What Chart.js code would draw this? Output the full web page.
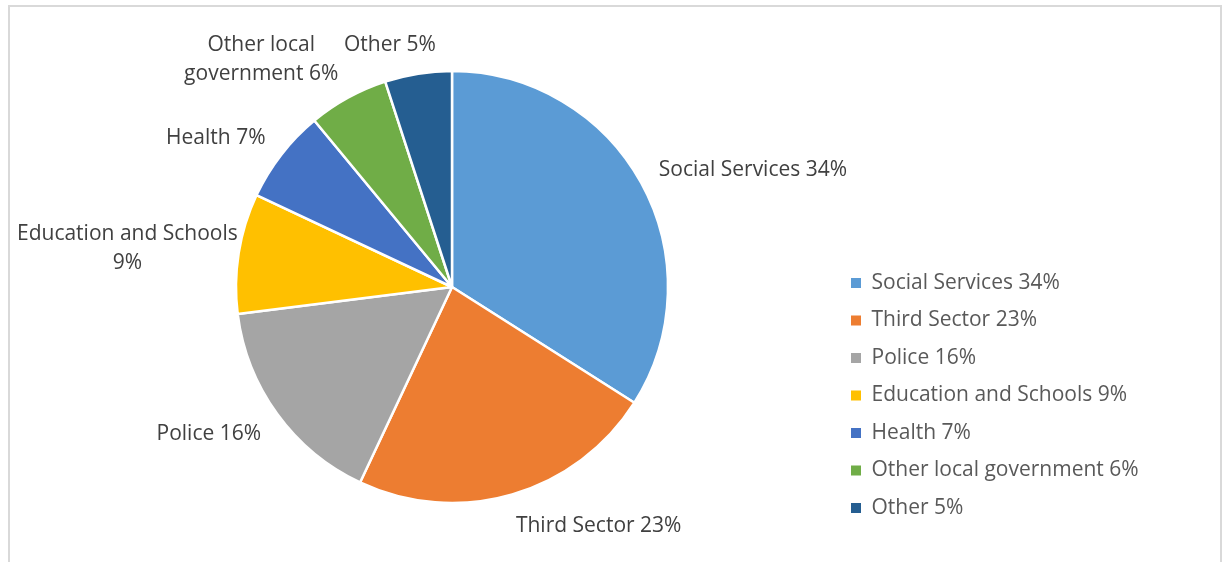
<!DOCTYPE html>
<html>
<head>
<meta charset="utf-8">
<script src="https://cdn.jsdelivr.net/npm/chart.js@4.4.1/dist/chart.umd.min.js"></script>
<style>
  html, body { margin: 0; padding: 0; background: #fff; overflow: hidden; }
  #wrap { position: relative; width: 1222px; height: 562px; }
  #frame { position: absolute; left: 8px; top: 5px; width: 1210px; height: 600px; border: 2px solid #d9d9d9; }
  #chart { position: absolute; left: 0; top: 0; }
</style>
</head>
<body>
<div id="wrap">
  <div id="frame"></div>
  <canvas id="chart" width="1222" height="562"></canvas>
</div>
<script>
// categories and their share of responses (%)
const categories = ['Social Services', 'Third Sector', 'Police', 'Education and Schools', 'Health', 'Other local government', 'Other'];
const shares = [34, 23, 16, 9, 7, 6, 5];
const sliceColors = ['#5b9bd5', '#ed7d31', '#a5a5a5', '#ffc000', '#4472c4', '#70ad47', '#255e91'];
// number of words kept on the first line of a wrapped data label (0 = one line)
const labelWrap = [0, 0, 0, 3, 0, 2, 0];

const FONT = '"Open Sans", "Noto Sans", sans-serif';
const fontSize = 21;
const rowGap = 37.5 - fontSize;

const labelText = (i) => `${categories[i]} ${shares[i]}%`;

function labelLines(i) {
  const words = labelText(i).split(' ');
  const n = labelWrap[i];
  if (!n) return [words.join(' ')];
  return [words.slice(0, n).join(' '), words.slice(n).join(' ')];
}

// measure the widest legend entry so the legend box starts where it should
const mctx = document.createElement('canvas').getContext('2d');
mctx.font = `${fontSize}px ${FONT}`;
const widest = Math.max(...categories.map((c, i) => mctx.measureText(labelText(i)).width));
const itemWidth = 10 + fontSize / 2 + widest;
const legendLeft = 851 - rowGap;
const padLeft = 2 * 452 - legendLeft;
const padRight = 1222 - (legendLeft + rowGap + itemWidth + 10);

const outsideLabels = {
  id: 'outsideLabels',
  afterDatasetsDraw(chart) {
    const ctx = chart.ctx;
    const meta = chart.getDatasetMeta(0);
    ctx.save();
    ctx.font = `${fontSize}px ${FONT}`;
    ctx.fillStyle = '#404040';
    ctx.textAlign = 'center';
    ctx.textBaseline = 'middle';
    meta.data.forEach((arc, i) => {
      const p = arc.getProps(['x', 'y', 'startAngle', 'endAngle', 'outerRadius'], true);
      const mid = (p.startAngle + p.endAngle) / 2;
      const r = p.outerRadius + 20;
      const dx = Math.cos(mid), dy = Math.sin(mid);
      const ax = p.x + dx * r, ay = p.y + dy * r;
      const lines = labelLines(i);
      const lh = 29;
      const w = Math.max(...lines.map((l) => ctx.measureText(l).width));
      const h = lines.length === 1 ? 22 : lines.length * lh - 7;
      let bx = ax + (w / 2) * Math.max(-1, Math.min(1, dx * 3.5));
      // keep the label inside the frame
      bx = Math.max(17 + w / 2, Math.min(1205 - w / 2, bx));
      const by = ay + dy * h / 2 + 2;
      lines.forEach((l, k) => {
        ctx.fillText(l, bx, by - (lines.length - 1) * lh / 2 + k * lh);
      });
    });
    ctx.restore();
  }
};

const baseLabels = (Chart.overrides.doughnut || Chart.overrides.pie).plugins.legend.labels.generateLabels;

new Chart(document.getElementById('chart'), {
  type: 'pie',
  data: {
    labels: categories.map((c, i) => labelText(i)),
    datasets: [{
      data: shares,
      backgroundColor: sliceColors,
      borderColor: '#ffffff',
      borderWidth: 2.5,
      hoverOffset: 0,
      radius: 216
    }]
  },
  options: {
    responsive: false,
    animation: false,
    events: [],
    layout: { padding: { top: 39, bottom: 27, left: padLeft, right: padRight } },
    plugins: {
      tooltip: { enabled: false },
      legend: {
        position: 'right',
        align: 'end',
        labels: {
          boxWidth: 10,
          boxHeight: 10,
          padding: rowGap,
          color: '#595959',
          font: { family: FONT, size: fontSize },
          generateLabels(chart) {
            return baseLabels(chart).map((item) => ({ ...item, lineWidth: 0, strokeStyle: item.fillStyle }));
          }
        }
      }
    }
  },
  plugins: [outsideLabels]
});
</script>
</body>
</html>
